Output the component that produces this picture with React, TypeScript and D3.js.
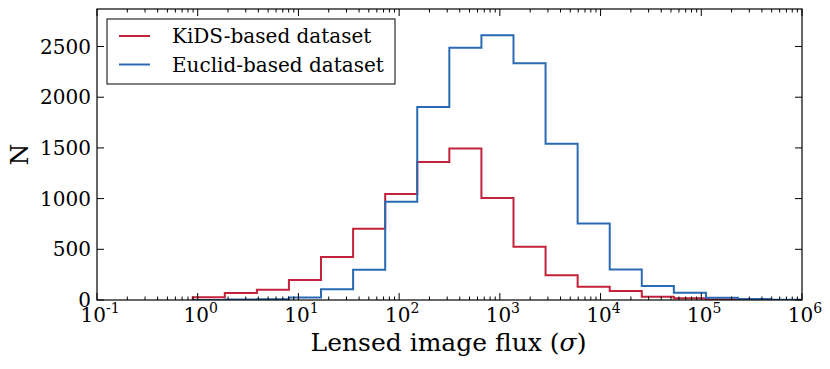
import * as d3 from "d3";
import { useEffect, useRef } from "react";

// bin edges of the flux histogram (sigma), log-spaced
const binEdges = [0.892, 1.857, 3.867, 8.05, 16.76, 34.9, 72.7, 151.3, 315.0, 656, 1366, 2843, 5920, 12330, 25660, 53430, 111250, 231600, 482300, 1000000];
const kidsCounts = [27, 69, 101, 197, 423, 702, 1046, 1361, 1495, 1007, 525, 243, 131, 89, 33, 17, 5, 2, 0];
const euclidCounts = [0, 5, 8, 25, 105, 298, 968, 1903, 2487, 2611, 2336, 1542, 755, 302, 138, 72, 23, 10, 3];
const seriesNames = ["KiDS-based dataset", "Euclid-based dataset"];
const seriesColors = ["#c4213a", "#2a6ab4"];
const yTicks = [0, 500, 1000, 1500, 2000, 2500];
const xDecades = [-1, 0, 1, 2, 3, 4, 5, 6];

const W = 830;
const H = 369;
const margin = { left: 97, right: 28, top: 9, bottom: 69 };
const font = "DejaVu Serif, serif";

const App = () => {
  const svgRef = useRef<SVGSVGElement>(null);

  useEffect(() => {
    const svg = d3.select(svgRef.current);
    svg.selectAll("*").remove();

    const x = d3.scaleLog().domain([0.1, 1e6]).range([margin.left, W - margin.right]);
    const y = d3.scaleLinear().domain([0, 2870]).range([H - margin.bottom, margin.top]);
    const x0 = margin.left, x1 = W - margin.right, y0 = H - margin.bottom, y1 = margin.top;

    const stepPath = (counts: number[]) => {
      const pts: [number, number][] = [[binEdges[0], 0]];
      counts.forEach((c, i) => {
        pts.push([binEdges[i], c]);
        pts.push([binEdges[i + 1], c]);
      });
      pts.push([binEdges[binEdges.length - 1], 0]);
      return d3.line<[number, number]>().x(d => x(d[0])).y(d => y(d[1]))(pts);
    };

    const clipId = "plotclip";
    svg.append("clipPath").attr("id", clipId).append("rect")
      .attr("x", x0).attr("y", y1).attr("width", x1 - x0).attr("height", y0 - y1);

    const g = svg.append("g").attr("clip-path", `url(#${clipId})`);
    [kidsCounts, euclidCounts].forEach((counts, i) => {
      g.append("path").attr("d", stepPath(counts)).attr("fill", "none")
        .attr("stroke", seriesColors[i]).attr("stroke-width", 2).attr("stroke-linejoin", "miter");
    });

    // ticks
    const ticks = svg.append("g").attr("stroke", "black").attr("stroke-width", 1);
    xDecades.forEach(e => {
      const base = Math.pow(10, e);
      const px = x(base);
      ticks.append("line").attr("x1", px).attr("x2", px).attr("y1", y0).attr("y2", y0 - 7);
      ticks.append("line").attr("x1", px).attr("x2", px).attr("y1", y1).attr("y2", y1 + 7);
      if (e < 6) {
        for (let m = 2; m <= 9; m++) {
          const mx = x(base * m);
          ticks.append("line").attr("x1", mx).attr("x2", mx).attr("y1", y0).attr("y2", y0 - 3.5);
          ticks.append("line").attr("x1", mx).attr("x2", mx).attr("y1", y1).attr("y2", y1 + 3.5);
        }
      }
    });
    yTicks.forEach(t => {
      const py = y(t);
      ticks.append("line").attr("x1", x0).attr("x2", x0 + 7).attr("y1", py).attr("y2", py);
      ticks.append("line").attr("x1", x1).attr("x2", x1 - 7).attr("y1", py).attr("y2", py);
    });

    svg.append("rect").attr("x", x0).attr("y", y1).attr("width", x1 - x0).attr("height", y0 - y1)
      .attr("fill", "none").attr("stroke", "black").attr("stroke-width", 1.2);

    // tick labels
    xDecades.forEach(e => {
      const t = svg.append("text").attr("x", x(Math.pow(10, e)) + 3).attr("y", y0 + 22)
        .attr("text-anchor", "middle").attr("font-family", font).attr("font-size", 20);
      t.append("tspan").text("10");
      t.append("tspan").attr("dy", -9).attr("font-size", 14).text(String(e));
    });
    yTicks.forEach(v => {
      svg.append("text").attr("x", x0 - 6).attr("y", y(v) + 7).attr("text-anchor", "end")
        .attr("font-family", font).attr("font-size", 20).text(String(v));
    });

    // axis titles
    const xl = svg.append("text").attr("x", (x0 + x1) / 2 - 1).attr("y", 351).attr("text-anchor", "middle")
      .attr("font-family", font).attr("font-size", 25);
    xl.append("tspan").text("Lensed image flux (");
    xl.append("tspan").attr("font-style", "italic").text("σ");
    xl.append("tspan").text(")");
    svg.append("text").attr("transform", `translate(28, ${(y0 + y1) / 2}) rotate(-90)`)
      .attr("text-anchor", "middle").attr("font-family", font).attr("font-size", 25).text("N");

    // legend
    const lg = svg.append("g");
    lg.append("rect").attr("x", 107).attr("y", 19).attr("width", 288).attr("height", 65)
      .attr("fill", "white").attr("stroke", "black").attr("stroke-width", 1);
    seriesNames.forEach((name, i) => {
      const ly = 36 + i * 28.5;
      lg.append("line").attr("x1", 119).attr("x2", 150).attr("y1", ly).attr("y2", ly)
        .attr("stroke", seriesColors[i]).attr("stroke-width", 2);
      lg.append("text").attr("x", 172).attr("y", ly + 7).attr("font-family", font)
        .attr("font-size", 20).text(name);
    });
  }, []);

  return (
    <div>
      <svg ref={svgRef} width={W} height={H} style={{ position: "absolute", left: 0, top: 0 }}></svg>
    </div>
  );
};

export default App;
